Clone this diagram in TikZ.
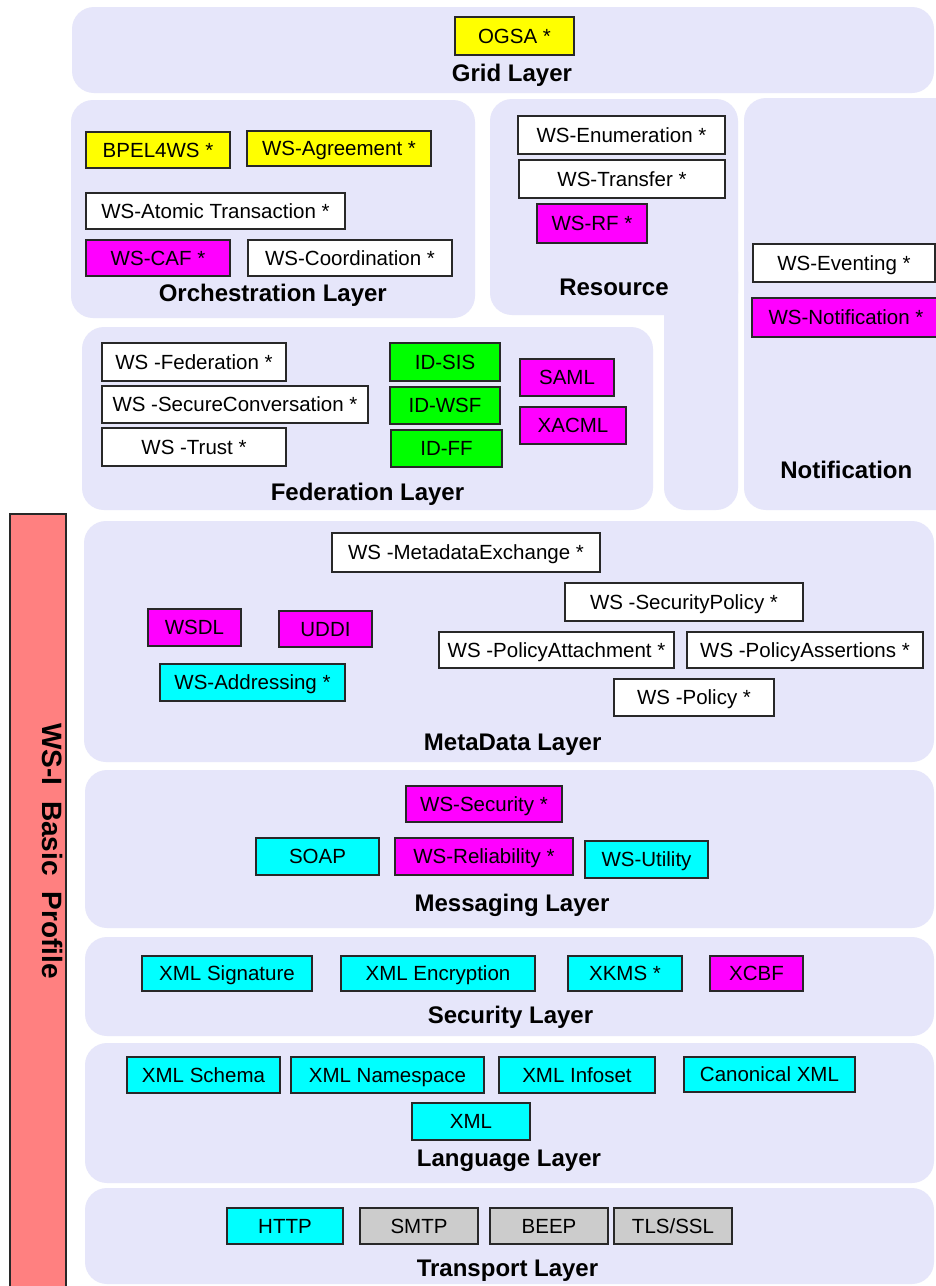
\documentclass[tikz,border=0pt]{standalone}
\usepackage{fontspec}
\setmainfont{Liberation Sans}

\definecolor{panelbg}{RGB}{230,230,250}
\definecolor{wsred}{RGB}{255,128,128}
\definecolor{wsgray}{RGB}{204,204,204}
\definecolor{edge}{RGB}{40,40,40}
\definecolor{wsyellow}{RGB}{255,255,0}
\definecolor{wsmagenta}{RGB}{255,0,255}
\definecolor{wscyan}{RGB}{0,255,255}
\definecolor{wsgreen}{RGB}{0,255,0}

\tikzset{
  wsitem/.style={draw=edge, line width=1.3pt, inner sep=0pt,
    font=\fontsize{20.5}{24}\selectfont, text height=14.7pt, text depth=0pt},
  layername/.style={font=\fontsize{24}{28}\selectfont\bfseries, inner sep=0pt,
    text height=17.2pt, text depth=0pt},
  panel/.style={fill=panelbg, rounded corners=22pt},
}

% \wsbox{name}{left}{top}{right}{bottom}{fill}{text}
\newcommand{\wsbox}[7]{%
  \node[wsitem, fill=#6, minimum width={(#4-#2)*1pt}, minimum height={(#5-#3)*1pt}]
    (#1) at ({(#2+#4)/2},{(#3+#5)/2}) {#7};}

\begin{document}
\begin{tikzpicture}[x=1pt, y=-1pt]
\useasboundingbox (0,0) rectangle (936,1286);
\clip (0,0) rectangle (936,1286);
\fill[white] (0,0) rectangle (936,1286);

% ---- layer panels ----
\fill[panel] (72,7) rectangle (934,93);       % grid
\fill[panel] (71,100) rectangle (475,318);    % orchestration
\fill[panel] (490,99) rectangle (738,315);    % resource
\fill[panel] (664,250) rectangle (738,510);   % resource, lower strip
\fill[panel] (744,98) rectangle (970,510);    % notification
\fill[panel] (82,327) rectangle (653,510);    % federation
\fill[panel] (84,521) rectangle (934,762);    % metadata
\fill[panel] (85,770) rectangle (934,928);    % messaging
\fill[panel] (85,937) rectangle (934,1036);   % security
\fill[panel] (85,1043) rectangle (934,1183);  % language
\fill[panel] (85,1188) rectangle (934,1284);  % transport

% ---- WS-I Basic Profile bar ----
\draw[draw=edge, line width=1.3pt, fill=wsred] (10,514) rectangle (66,1300);
\node[rotate=-90, font=\fontsize{28}{32}\selectfont\bfseries, inner sep=0pt,
      text height=20pt, text depth=0pt] (wsi) at (52.5,851) {WS-I\ \ Basic\ \ Profile};

% ---- grid layer ----
\wsbox{ogsa}{455}{17}{574}{55}{wsyellow}{OGSA *}
\node[layername] (gridlbl) at (512,73.3) {Grid Layer};

% ---- orchestration layer ----
\wsbox{bpel}{86}{132}{230}{168}{wsyellow}{BPEL4WS *}
\wsbox{agree}{247}{131}{431}{166}{wsyellow}{WS-Agreement *}
\wsbox{atomic}{86}{193}{345}{229}{white}{WS-Atomic Transaction *}
\wsbox{caf}{86}{240}{230}{276}{wsmagenta}{WS-CAF *}
\wsbox{coord}{248}{240}{452}{276}{white}{WS-Coordination *}
\node[layername] (orchlbl) at (272.8,293.3) {Orchestration Layer};

% ---- resource ----
\wsbox{enum}{518}{116}{725}{154}{white}{WS-Enumeration *}
\wsbox{transfer}{519}{160}{725}{198}{white}{WS-Transfer *}
\wsbox{wsrf}{537}{204}{647}{243}{wsmagenta}{WS-RF *}
\node[layername] (reslbl) at (614,286.7) {Resource};

% ---- notification ----
\wsbox{eventing}{753}{244}{935}{282}{white}{WS-Eventing *}
\wsbox{notif}{752}{298}{940}{337}{wsmagenta}{WS-Notification *}
\node[layername] (notlbl) at (846.3,470) {Notification};

% ---- federation layer ----
\wsbox{fed}{102}{343}{286}{381}{white}{WS -Federation *}
\wsbox{secconv}{102}{386}{368}{423}{white}{WS -SecureConversation *}
\wsbox{trust}{102}{428}{286}{466}{white}{WS -Trust *}
\wsbox{idsis}{390}{343}{500}{381}{wsgreen}{ID-SIS}
\wsbox{idwsf}{390}{387}{500}{424}{wsgreen}{ID-WSF}
\wsbox{idff}{391}{430}{502}{467}{wsgreen}{ID-FF}
\wsbox{saml}{520}{359}{614}{396}{wsmagenta}{SAML}
\wsbox{xacml}{520}{407}{626}{444}{wsmagenta}{XACML}
\node[layername] (fedlbl) at (367.5,491.7) {Federation Layer};

% ---- metadata layer ----
\wsbox{mex}{332}{533}{600}{572}{white}{WS -MetadataExchange *}
\wsbox{wsdl}{148}{609}{241}{646}{wsmagenta}{WSDL}
\wsbox{uddi}{279}{611}{372}{647}{wsmagenta}{UDDI}
\wsbox{addr}{160}{664}{345}{701}{wscyan}{WS-Addressing *}
\wsbox{secpol}{565}{583}{803}{621}{white}{WS -SecurityPolicy *}
\wsbox{polatt}{439}{632}{674}{668}{white}{WS -PolicyAttachment *}
\wsbox{polass}{687}{632}{923}{668}{white}{WS -PolicyAssertions *}
\wsbox{policy}{614}{679}{774}{716}{white}{WS -Policy *}
\node[layername] (metalbl) at (512.7,741.7) {MetaData Layer};

% ---- messaging layer ----
\wsbox{wssec}{406}{786}{562}{822}{wsmagenta}{WS-Security *}
\wsbox{soap}{256}{838}{379}{875}{wscyan}{SOAP}
\wsbox{reliab}{395}{838}{573}{875}{wsmagenta}{WS-Reliability *}
\wsbox{utility}{585}{841}{708}{878}{wscyan}{WS-Utility}
\node[layername] (msglbl) at (512,903.3) {Messaging Layer};

% ---- security layer ----
\wsbox{xmlsig}{142}{956}{312}{991}{wscyan}{XML Signature}
\wsbox{xmlenc}{341}{956}{535}{991}{wscyan}{XML Encryption}
\wsbox{xkms}{568}{956}{682}{991}{wscyan}{XKMS *}
\wsbox{xcbf}{710}{956}{803}{991}{wsmagenta}{XCBF}
\node[layername] (seclbl) at (510.5,1015) {Security Layer};

% ---- language layer ----
\wsbox{schema}{127}{1057}{280}{1093}{wscyan}{XML Schema}
\wsbox{nspace}{291}{1057}{484}{1093}{wscyan}{XML Namespace}
\wsbox{infoset}{499}{1057}{655}{1093}{wscyan}{XML Infoset}
\wsbox{canon}{684}{1057}{855}{1092}{wscyan}{Canonical XML}
\wsbox{xml}{412}{1103}{530}{1140}{wscyan}{XML}
\node[layername] (langlbl) at (509,1158.3) {Language Layer};

% ---- transport layer ----
\wsbox{http}{227}{1208}{343}{1244}{wscyan}{HTTP}
\wsbox{smtp}{360}{1208}{478}{1244}{wsgray}{SMTP}
\wsbox{beep}{490}{1208}{608}{1244}{wsgray}{BEEP}
\wsbox{tls}{614}{1208}{732}{1244}{wsgray}{TLS/SSL}
\node[layername] (translbl) at (507.5,1268.3) {Transport Layer};
\end{tikzpicture}
\end{document}
